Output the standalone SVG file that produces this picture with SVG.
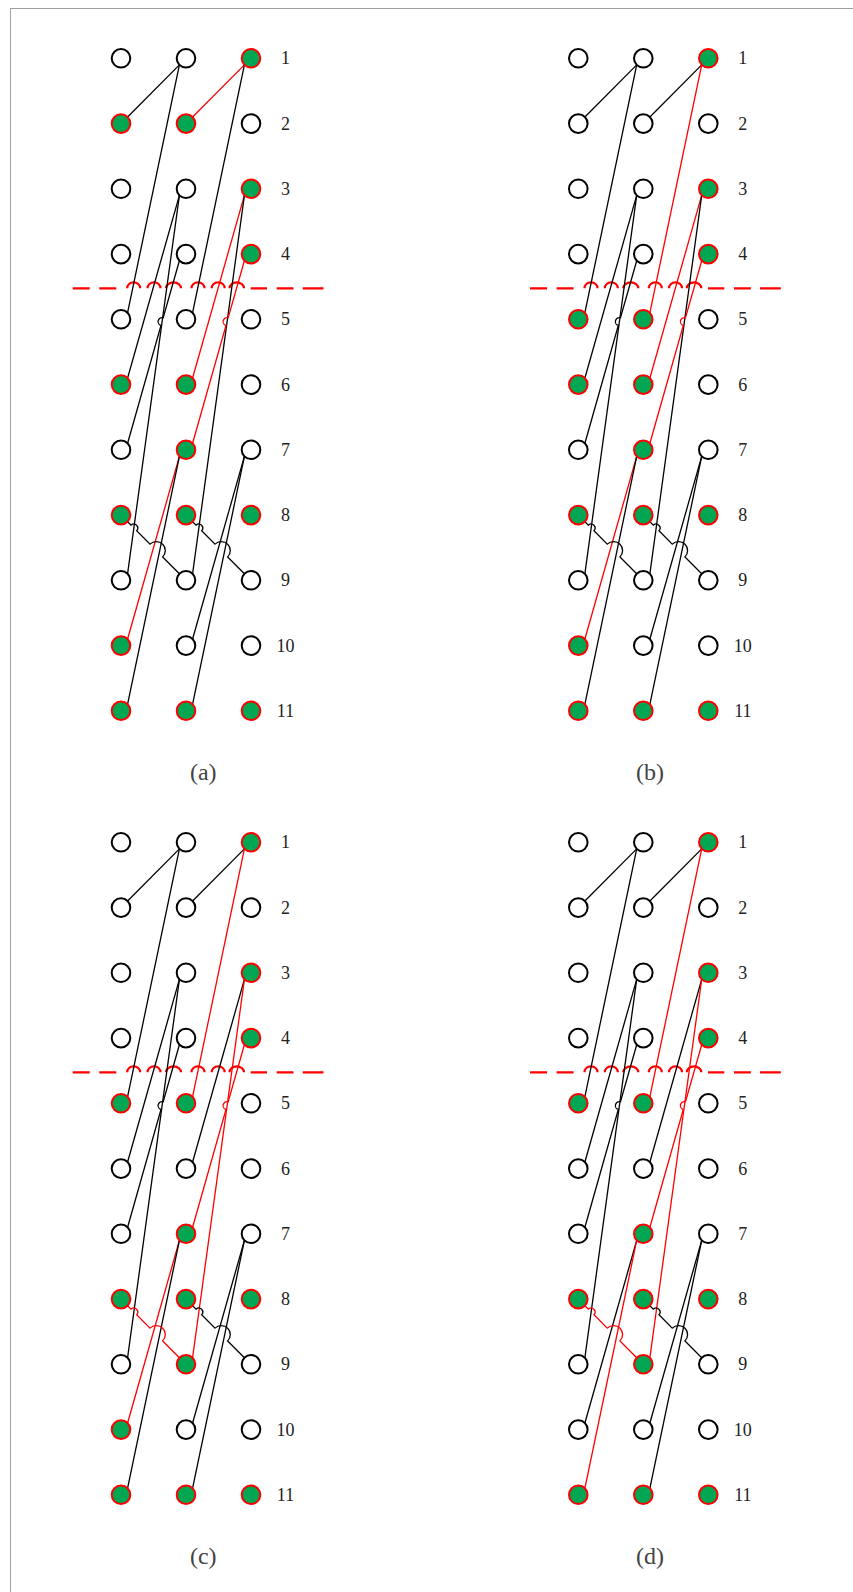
<svg xmlns="http://www.w3.org/2000/svg" width="853" height="1592" viewBox="0 0 853 1592">
<style>
.w{fill:#fff;stroke:#000;stroke-width:2}
.g{fill:#00a651;stroke:#ff0000;stroke-width:2}
.k{fill:none;stroke:#000;stroke-width:1.3}
.r{fill:none;stroke:#ff0000;stroke-width:1.3}
.dash{fill:none;stroke:#ff0000;stroke-width:2.2}
.lbl{font-family:"Liberation Serif","Times New Roman",serif;font-size:18px;fill:#222;text-anchor:middle}
.cap{font-family:"Liberation Serif","Times New Roman",serif;font-size:24px;fill:#444;text-anchor:middle}
</style>
<defs>
<path id="cut" d="M72.7,288.3 H89.7 M99.3,288.3 H116.3 M127.2,288.3 A6.5,6 0 0 1 140.2,288.3 M147.5,288.3 A6.5,6 0 0 1 160.5,288.3 M166,288.3 A7.5,6 0 0 1 181,288.3 M191.5,288.3 A6.5,6 0 0 1 204.5,288.3 M211.7,288.3 A6.5,6 0 0 1 224.7,288.3 M229.5,288.3 A7.25,6 0 0 1 244,288.3 M250.7,288.3 H267 M276.7,288.3 H293.5 M302.7,288.3 H323.5"/>
<g id="labels">
<text class="lbl" x="285.5" y="64.3">1</text>
<text class="lbl" x="285.5" y="129.6">2</text>
<text class="lbl" x="285.5" y="194.8">3</text>
<text class="lbl" x="285.5" y="260.1">4</text>
<text class="lbl" x="285.5" y="325.3">5</text>
<text class="lbl" x="285.5" y="390.6">6</text>
<text class="lbl" x="285.5" y="455.8">7</text>
<text class="lbl" x="285.5" y="521.1">8</text>
<text class="lbl" x="285.5" y="586.3">9</text>
<text class="lbl" x="285.5" y="651.6">10</text>
<text class="lbl" x="285.5" y="716.8">11</text>
</g>
</defs>
<rect x="10.5" y="8.5" width="860" height="1600" fill="none" stroke="#a0a0a0" stroke-width="1"/>

<!-- Panel a -->
<g id="panel-a">
<g id="a-connectors">
<use href="#cut" class="dash"/>
<path class="k" d="M179.4,64.9 L127.6,117"/>
<path class="r" d="M244.4,64.9 L192.6,117"/>
<path class="k" d="M179.4,64.9 L127.6,312.7"/>
<path class="k" d="M244.4,64.9 L192.6,312.7"/>
<path class="k" d="M179.4,195.4 L127.6,378"/>
<path class="k" d="M179.4,195.4 L127.6,573.7"/>
<path class="k" d="M179.4,260.7 L163.2,317.74 A4,4 0 0 0 161.0,325.46 L127.6,443.2"/>
<path class="r" d="M244.4,195.4 L192.6,378"/>
<path class="k" d="M244.4,195.4 L192.6,573.7"/>
<path class="r" d="M244.4,260.7 L228.2,317.74 A4,4 0 0 0 226.0,325.46 L192.6,443.2"/>
<path class="r" d="M179.4,456.4 L127.6,639"/>
<path class="k" d="M179.4,456.4 L127.6,704.2"/>
<path class="k" d="M244.4,456.4 L192.6,639"/>
<path class="k" d="M244.4,456.4 L192.6,704.2"/>
<path class="k" d="M127.6,521.7 L131.04,525.15 A4,4 0 0 1 136.68,530.81 L149.97,544.15 A9,9 0 0 1 162.67,556.91 L179.4,573.7"/>
<path class="k" d="M192.6,521.7 L196.04,525.15 A4,4 0 0 1 201.68,530.81 L214.97,544.15 A9,9 0 0 1 227.67,556.91 L244.4,573.7"/>
</g>
<g id="a-L1"><circle class="w" cx="121" cy="58.3" r="9.3"/></g>
<g id="a-M1"><circle class="w" cx="186" cy="58.3" r="9.3"/></g>
<g id="a-R1"><circle class="g" cx="251" cy="58.3" r="9.3"/></g>
<g id="a-L2"><circle class="g" cx="121" cy="123.6" r="9.3"/></g>
<g id="a-M2"><circle class="g" cx="186" cy="123.6" r="9.3"/></g>
<g id="a-R2"><circle class="w" cx="251" cy="123.6" r="9.3"/></g>
<g id="a-L3"><circle class="w" cx="121" cy="188.8" r="9.3"/></g>
<g id="a-M3"><circle class="w" cx="186" cy="188.8" r="9.3"/></g>
<g id="a-R3"><circle class="g" cx="251" cy="188.8" r="9.3"/></g>
<g id="a-L4"><circle class="w" cx="121" cy="254.1" r="9.3"/></g>
<g id="a-M4"><circle class="w" cx="186" cy="254.1" r="9.3"/></g>
<g id="a-R4"><circle class="g" cx="251" cy="254.1" r="9.3"/></g>
<g id="a-L5"><circle class="w" cx="121" cy="319.3" r="9.3"/></g>
<g id="a-M5"><circle class="w" cx="186" cy="319.3" r="9.3"/></g>
<g id="a-R5"><circle class="w" cx="251" cy="319.3" r="9.3"/></g>
<g id="a-L6"><circle class="g" cx="121" cy="384.6" r="9.3"/></g>
<g id="a-M6"><circle class="g" cx="186" cy="384.6" r="9.3"/></g>
<g id="a-R6"><circle class="w" cx="251" cy="384.6" r="9.3"/></g>
<g id="a-L7"><circle class="w" cx="121" cy="449.8" r="9.3"/></g>
<g id="a-M7"><circle class="g" cx="186" cy="449.8" r="9.3"/></g>
<g id="a-R7"><circle class="w" cx="251" cy="449.8" r="9.3"/></g>
<g id="a-L8"><circle class="g" cx="121" cy="515.1" r="9.3"/></g>
<g id="a-M8"><circle class="g" cx="186" cy="515.1" r="9.3"/></g>
<g id="a-R8"><circle class="g" cx="251" cy="515.1" r="9.3"/></g>
<g id="a-L9"><circle class="w" cx="121" cy="580.3" r="9.3"/></g>
<g id="a-M9"><circle class="w" cx="186" cy="580.3" r="9.3"/></g>
<g id="a-R9"><circle class="w" cx="251" cy="580.3" r="9.3"/></g>
<g id="a-L10"><circle class="g" cx="121" cy="645.6" r="9.3"/></g>
<g id="a-M10"><circle class="w" cx="186" cy="645.6" r="9.3"/></g>
<g id="a-R10"><circle class="w" cx="251" cy="645.6" r="9.3"/></g>
<g id="a-L11"><circle class="g" cx="121" cy="710.8" r="9.3"/></g>
<g id="a-M11"><circle class="g" cx="186" cy="710.8" r="9.3"/></g>
<g id="a-R11"><circle class="g" cx="251" cy="710.8" r="9.3"/></g>
<use href="#labels"/>
</g>

<!-- Panel b -->
<g id="panel-b" transform="translate(457.3,0)">
<g id="b-connectors">
<use href="#cut" class="dash"/>
<path class="k" d="M179.4,64.9 L127.6,117"/>
<path class="k" d="M244.4,64.9 L192.6,117"/>
<path class="k" d="M179.4,64.9 L127.6,312.7"/>
<path class="r" d="M244.4,64.9 L192.6,312.7"/>
<path class="k" d="M179.4,195.4 L127.6,378"/>
<path class="k" d="M179.4,195.4 L127.6,573.7"/>
<path class="k" d="M179.4,260.7 L163.2,317.74 A4,4 0 0 0 161.0,325.46 L127.6,443.2"/>
<path class="r" d="M244.4,195.4 L192.6,378"/>
<path class="k" d="M244.4,195.4 L192.6,573.7"/>
<path class="r" d="M244.4,260.7 L228.2,317.74 A4,4 0 0 0 226.0,325.46 L192.6,443.2"/>
<path class="r" d="M179.4,456.4 L127.6,639"/>
<path class="k" d="M179.4,456.4 L127.6,704.2"/>
<path class="k" d="M244.4,456.4 L192.6,639"/>
<path class="k" d="M244.4,456.4 L192.6,704.2"/>
<path class="k" d="M127.6,521.7 L131.04,525.15 A4,4 0 0 1 136.68,530.81 L149.97,544.15 A9,9 0 0 1 162.67,556.91 L179.4,573.7"/>
<path class="k" d="M192.6,521.7 L196.04,525.15 A4,4 0 0 1 201.68,530.81 L214.97,544.15 A9,9 0 0 1 227.67,556.91 L244.4,573.7"/>
</g>
<g id="b-L1"><circle class="w" cx="121" cy="58.3" r="9.3"/></g>
<g id="b-M1"><circle class="w" cx="186" cy="58.3" r="9.3"/></g>
<g id="b-R1"><circle class="g" cx="251" cy="58.3" r="9.3"/></g>
<g id="b-L2"><circle class="w" cx="121" cy="123.6" r="9.3"/></g>
<g id="b-M2"><circle class="w" cx="186" cy="123.6" r="9.3"/></g>
<g id="b-R2"><circle class="w" cx="251" cy="123.6" r="9.3"/></g>
<g id="b-L3"><circle class="w" cx="121" cy="188.8" r="9.3"/></g>
<g id="b-M3"><circle class="w" cx="186" cy="188.8" r="9.3"/></g>
<g id="b-R3"><circle class="g" cx="251" cy="188.8" r="9.3"/></g>
<g id="b-L4"><circle class="w" cx="121" cy="254.1" r="9.3"/></g>
<g id="b-M4"><circle class="w" cx="186" cy="254.1" r="9.3"/></g>
<g id="b-R4"><circle class="g" cx="251" cy="254.1" r="9.3"/></g>
<g id="b-L5"><circle class="g" cx="121" cy="319.3" r="9.3"/></g>
<g id="b-M5"><circle class="g" cx="186" cy="319.3" r="9.3"/></g>
<g id="b-R5"><circle class="w" cx="251" cy="319.3" r="9.3"/></g>
<g id="b-L6"><circle class="g" cx="121" cy="384.6" r="9.3"/></g>
<g id="b-M6"><circle class="g" cx="186" cy="384.6" r="9.3"/></g>
<g id="b-R6"><circle class="w" cx="251" cy="384.6" r="9.3"/></g>
<g id="b-L7"><circle class="w" cx="121" cy="449.8" r="9.3"/></g>
<g id="b-M7"><circle class="g" cx="186" cy="449.8" r="9.3"/></g>
<g id="b-R7"><circle class="w" cx="251" cy="449.8" r="9.3"/></g>
<g id="b-L8"><circle class="g" cx="121" cy="515.1" r="9.3"/></g>
<g id="b-M8"><circle class="g" cx="186" cy="515.1" r="9.3"/></g>
<g id="b-R8"><circle class="g" cx="251" cy="515.1" r="9.3"/></g>
<g id="b-L9"><circle class="w" cx="121" cy="580.3" r="9.3"/></g>
<g id="b-M9"><circle class="w" cx="186" cy="580.3" r="9.3"/></g>
<g id="b-R9"><circle class="w" cx="251" cy="580.3" r="9.3"/></g>
<g id="b-L10"><circle class="g" cx="121" cy="645.6" r="9.3"/></g>
<g id="b-M10"><circle class="w" cx="186" cy="645.6" r="9.3"/></g>
<g id="b-R10"><circle class="w" cx="251" cy="645.6" r="9.3"/></g>
<g id="b-L11"><circle class="g" cx="121" cy="710.8" r="9.3"/></g>
<g id="b-M11"><circle class="g" cx="186" cy="710.8" r="9.3"/></g>
<g id="b-R11"><circle class="g" cx="251" cy="710.8" r="9.3"/></g>
<use href="#labels"/>
</g>

<!-- Panel c -->
<g id="panel-c" transform="translate(0,784)">
<g id="c-connectors">
<use href="#cut" class="dash"/>
<path class="k" d="M179.4,64.9 L127.6,117"/>
<path class="k" d="M244.4,64.9 L192.6,117"/>
<path class="k" d="M179.4,64.9 L127.6,312.7"/>
<path class="r" d="M244.4,64.9 L192.6,312.7"/>
<path class="k" d="M179.4,195.4 L127.6,378"/>
<path class="k" d="M179.4,195.4 L127.6,573.7"/>
<path class="k" d="M179.4,260.7 L163.2,317.74 A4,4 0 0 0 161.0,325.46 L127.6,443.2"/>
<path class="k" d="M244.4,195.4 L192.6,378"/>
<path class="r" d="M244.4,195.4 L192.6,573.7"/>
<path class="r" d="M244.4,260.7 L228.2,317.74 A4,4 0 0 0 226.0,325.46 L192.6,443.2"/>
<path class="r" d="M179.4,456.4 L127.6,639"/>
<path class="k" d="M179.4,456.4 L127.6,704.2"/>
<path class="k" d="M244.4,456.4 L192.6,639"/>
<path class="k" d="M244.4,456.4 L192.6,704.2"/>
<path class="r" d="M127.6,521.7 L131.04,525.15 A4,4 0 0 1 136.68,530.81 L149.97,544.15 A9,9 0 0 1 162.67,556.91 L179.4,573.7"/>
<path class="k" d="M192.6,521.7 L196.04,525.15 A4,4 0 0 1 201.68,530.81 L214.97,544.15 A9,9 0 0 1 227.67,556.91 L244.4,573.7"/>
</g>
<g id="c-L1"><circle class="w" cx="121" cy="58.3" r="9.3"/></g>
<g id="c-M1"><circle class="w" cx="186" cy="58.3" r="9.3"/></g>
<g id="c-R1"><circle class="g" cx="251" cy="58.3" r="9.3"/></g>
<g id="c-L2"><circle class="w" cx="121" cy="123.6" r="9.3"/></g>
<g id="c-M2"><circle class="w" cx="186" cy="123.6" r="9.3"/></g>
<g id="c-R2"><circle class="w" cx="251" cy="123.6" r="9.3"/></g>
<g id="c-L3"><circle class="w" cx="121" cy="188.8" r="9.3"/></g>
<g id="c-M3"><circle class="w" cx="186" cy="188.8" r="9.3"/></g>
<g id="c-R3"><circle class="g" cx="251" cy="188.8" r="9.3"/></g>
<g id="c-L4"><circle class="w" cx="121" cy="254.1" r="9.3"/></g>
<g id="c-M4"><circle class="w" cx="186" cy="254.1" r="9.3"/></g>
<g id="c-R4"><circle class="g" cx="251" cy="254.1" r="9.3"/></g>
<g id="c-L5"><circle class="g" cx="121" cy="319.3" r="9.3"/></g>
<g id="c-M5"><circle class="g" cx="186" cy="319.3" r="9.3"/></g>
<g id="c-R5"><circle class="w" cx="251" cy="319.3" r="9.3"/></g>
<g id="c-L6"><circle class="w" cx="121" cy="384.6" r="9.3"/></g>
<g id="c-M6"><circle class="w" cx="186" cy="384.6" r="9.3"/></g>
<g id="c-R6"><circle class="w" cx="251" cy="384.6" r="9.3"/></g>
<g id="c-L7"><circle class="w" cx="121" cy="449.8" r="9.3"/></g>
<g id="c-M7"><circle class="g" cx="186" cy="449.8" r="9.3"/></g>
<g id="c-R7"><circle class="w" cx="251" cy="449.8" r="9.3"/></g>
<g id="c-L8"><circle class="g" cx="121" cy="515.1" r="9.3"/></g>
<g id="c-M8"><circle class="g" cx="186" cy="515.1" r="9.3"/></g>
<g id="c-R8"><circle class="g" cx="251" cy="515.1" r="9.3"/></g>
<g id="c-L9"><circle class="w" cx="121" cy="580.3" r="9.3"/></g>
<g id="c-M9"><circle class="g" cx="186" cy="580.3" r="9.3"/></g>
<g id="c-R9"><circle class="w" cx="251" cy="580.3" r="9.3"/></g>
<g id="c-L10"><circle class="g" cx="121" cy="645.6" r="9.3"/></g>
<g id="c-M10"><circle class="w" cx="186" cy="645.6" r="9.3"/></g>
<g id="c-R10"><circle class="w" cx="251" cy="645.6" r="9.3"/></g>
<g id="c-L11"><circle class="g" cx="121" cy="710.8" r="9.3"/></g>
<g id="c-M11"><circle class="g" cx="186" cy="710.8" r="9.3"/></g>
<g id="c-R11"><circle class="g" cx="251" cy="710.8" r="9.3"/></g>
<use href="#labels"/>
</g>

<!-- Panel d -->
<g id="panel-d" transform="translate(457.3,784)">
<g id="d-connectors">
<use href="#cut" class="dash"/>
<path class="k" d="M179.4,64.9 L127.6,117"/>
<path class="k" d="M244.4,64.9 L192.6,117"/>
<path class="k" d="M179.4,64.9 L127.6,312.7"/>
<path class="r" d="M244.4,64.9 L192.6,312.7"/>
<path class="k" d="M179.4,195.4 L127.6,378"/>
<path class="k" d="M179.4,195.4 L127.6,573.7"/>
<path class="k" d="M179.4,260.7 L163.2,317.74 A4,4 0 0 0 161.0,325.46 L127.6,443.2"/>
<path class="k" d="M244.4,195.4 L192.6,378"/>
<path class="r" d="M244.4,195.4 L192.6,573.7"/>
<path class="r" d="M244.4,260.7 L228.2,317.74 A4,4 0 0 0 226.0,325.46 L192.6,443.2"/>
<path class="k" d="M179.4,456.4 L127.6,639"/>
<path class="r" d="M179.4,456.4 L127.6,704.2"/>
<path class="k" d="M244.4,456.4 L192.6,639"/>
<path class="k" d="M244.4,456.4 L192.6,704.2"/>
<path class="r" d="M127.6,521.7 L131.04,525.15 A4,4 0 0 1 136.68,530.81 L149.97,544.15 A9,9 0 0 1 162.67,556.91 L179.4,573.7"/>
<path class="k" d="M192.6,521.7 L196.04,525.15 A4,4 0 0 1 201.68,530.81 L214.97,544.15 A9,9 0 0 1 227.67,556.91 L244.4,573.7"/>
</g>
<g id="d-L1"><circle class="w" cx="121" cy="58.3" r="9.3"/></g>
<g id="d-M1"><circle class="w" cx="186" cy="58.3" r="9.3"/></g>
<g id="d-R1"><circle class="g" cx="251" cy="58.3" r="9.3"/></g>
<g id="d-L2"><circle class="w" cx="121" cy="123.6" r="9.3"/></g>
<g id="d-M2"><circle class="w" cx="186" cy="123.6" r="9.3"/></g>
<g id="d-R2"><circle class="w" cx="251" cy="123.6" r="9.3"/></g>
<g id="d-L3"><circle class="w" cx="121" cy="188.8" r="9.3"/></g>
<g id="d-M3"><circle class="w" cx="186" cy="188.8" r="9.3"/></g>
<g id="d-R3"><circle class="g" cx="251" cy="188.8" r="9.3"/></g>
<g id="d-L4"><circle class="w" cx="121" cy="254.1" r="9.3"/></g>
<g id="d-M4"><circle class="w" cx="186" cy="254.1" r="9.3"/></g>
<g id="d-R4"><circle class="g" cx="251" cy="254.1" r="9.3"/></g>
<g id="d-L5"><circle class="g" cx="121" cy="319.3" r="9.3"/></g>
<g id="d-M5"><circle class="g" cx="186" cy="319.3" r="9.3"/></g>
<g id="d-R5"><circle class="w" cx="251" cy="319.3" r="9.3"/></g>
<g id="d-L6"><circle class="w" cx="121" cy="384.6" r="9.3"/></g>
<g id="d-M6"><circle class="w" cx="186" cy="384.6" r="9.3"/></g>
<g id="d-R6"><circle class="w" cx="251" cy="384.6" r="9.3"/></g>
<g id="d-L7"><circle class="w" cx="121" cy="449.8" r="9.3"/></g>
<g id="d-M7"><circle class="g" cx="186" cy="449.8" r="9.3"/></g>
<g id="d-R7"><circle class="w" cx="251" cy="449.8" r="9.3"/></g>
<g id="d-L8"><circle class="g" cx="121" cy="515.1" r="9.3"/></g>
<g id="d-M8"><circle class="g" cx="186" cy="515.1" r="9.3"/></g>
<g id="d-R8"><circle class="g" cx="251" cy="515.1" r="9.3"/></g>
<g id="d-L9"><circle class="w" cx="121" cy="580.3" r="9.3"/></g>
<g id="d-M9"><circle class="g" cx="186" cy="580.3" r="9.3"/></g>
<g id="d-R9"><circle class="w" cx="251" cy="580.3" r="9.3"/></g>
<g id="d-L10"><circle class="w" cx="121" cy="645.6" r="9.3"/></g>
<g id="d-M10"><circle class="w" cx="186" cy="645.6" r="9.3"/></g>
<g id="d-R10"><circle class="w" cx="251" cy="645.6" r="9.3"/></g>
<g id="d-L11"><circle class="g" cx="121" cy="710.8" r="9.3"/></g>
<g id="d-M11"><circle class="g" cx="186" cy="710.8" r="9.3"/></g>
<g id="d-R11"><circle class="g" cx="251" cy="710.8" r="9.3"/></g>
<use href="#labels"/>
</g>

<g id="captions">
<text class="cap" x="203.3" y="779.5">(a)</text>
<text class="cap" x="650" y="779.5">(b)</text>
<text class="cap" x="203.3" y="1564">(c)</text>
<text class="cap" x="650" y="1564">(d)</text>
</g>
</svg>
